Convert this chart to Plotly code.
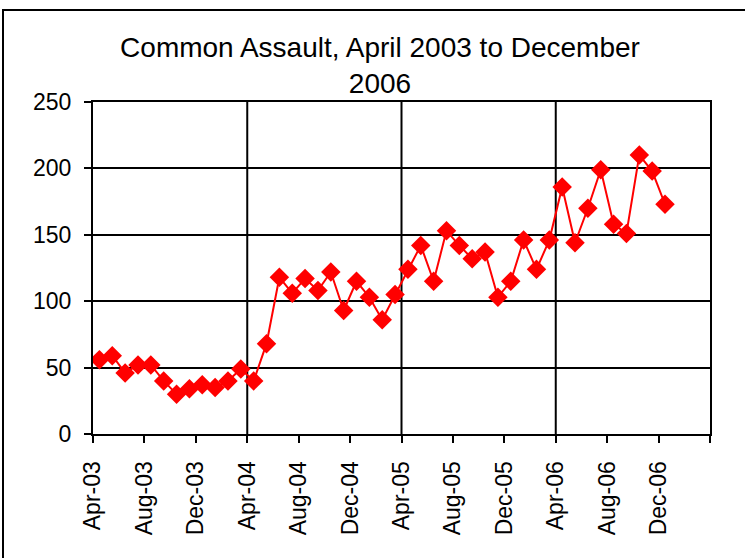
import plotly.graph_objects as go

months = ["Apr-03","May-03","Jun-03","Jul-03","Aug-03","Sep-03","Oct-03","Nov-03","Dec-03",
          "Jan-04","Feb-04","Mar-04","Apr-04","May-04","Jun-04","Jul-04","Aug-04","Sep-04",
          "Oct-04","Nov-04","Dec-04","Jan-05","Feb-05","Mar-05","Apr-05","May-05","Jun-05",
          "Jul-05","Aug-05","Sep-05","Oct-05","Nov-05","Dec-05","Jan-06","Feb-06","Mar-06",
          "Apr-06","May-06","Jun-06","Jul-06","Aug-06","Sep-06","Oct-06","Nov-06","Dec-06"]
assaults = [56, 59, 46, 52, 52, 40, 30, 34, 37,
            35, 40, 49, 40, 68, 118, 106, 117, 108,
            122, 93, 115, 103, 86, 105, 124, 142, 115,
            153, 142, 132, 137, 103, 115, 146, 124, 146,
            186, 144, 170, 199, 158, 151, 210, 198, 173]
tick_labels = ["Apr-03","Aug-03","Dec-03","Apr-04","Aug-04","Dec-04",
               "Apr-05","Aug-05","Dec-05","Apr-06","Aug-06","Dec-06",""]
y_ticks = [0, 50, 100, 150, 200, 250]

x_idx = list(range(len(months)))
tick_pos = [i * 4 - 0.5 for i in range(len(tick_labels))]
year_lines = [11.5, 23.5, 35.5]

fig = go.Figure()
fig.add_trace(go.Scatter(
    x=x_idx, y=assaults, mode="lines+markers",
    line=dict(color="#ff0000", width=2),
    marker=dict(symbol="diamond", size=15, color="#ff0000"),
    text=months, hoverinfo="text+y", showlegend=False))

W, H = 745, 558
L, R, T, B = 93, 35, 102, 124
pw, ph = W - L - R, H - T - B

shapes = []
for xv in year_lines:
    shapes.append(dict(type="line", xref="x", yref="paper", x0=xv, x1=xv, y0=0, y1=1,
                       line=dict(color="black", width=2), layer="below"))
# outer chart frame (runs off the right and bottom edges)
shapes.append(dict(type="rect", xref="paper", yref="paper",
                   x0=(3 - L) / pw, x1=(W + 5 - L) / pw,
                   y0=-(B + 5) / ph, y1=(ph + T - 10) / ph,
                   line=dict(color="black", width=2), fillcolor="rgba(0,0,0,0)"))

fig.update_layout(
    width=W, height=H,
    margin=dict(l=L, r=R, t=T, b=B, autoexpand=False),
    paper_bgcolor="white", plot_bgcolor="white",
    font=dict(family="Liberation Sans, Arial, sans-serif", color="black", size=23),
    title=dict(text="Common Assault, April 2003 to December<br>2006",
               font=dict(size=28, family="Liberation Sans, Arial, sans-serif", color="black"),
               x=380 / W, xanchor="center", xref="container",
               y=1 - 56.5 / H, yanchor="middle", yref="container"),
    shapes=shapes,
    xaxis=dict(range=[-0.5, 47.5], tickmode="array", tickvals=tick_pos, ticktext=tick_labels,
               tickangle=-90, ticks="outside", ticklen=7, tickwidth=2, tickcolor="black",
               showline=True, linecolor="black", linewidth=2, mirror=True,
               showgrid=False, zeroline=False, tickfont=dict(size=23), automargin=False,
               ticklabelstandoff=9),
    yaxis=dict(range=[0, 250], tickmode="array", tickvals=y_ticks,
               ticks="outside", ticklen=7, tickwidth=2, tickcolor="black",
               showline=True, linecolor="black", linewidth=2, mirror=True,
               showgrid=True, gridcolor="black", gridwidth=2, zeroline=False,
               tickfont=dict(size=23), ticklabelstandoff=8, automargin=False),
)

fig.write_html("out.html", config={"displayModeBar": False},
               post_script="document.body.style.margin='0';")
